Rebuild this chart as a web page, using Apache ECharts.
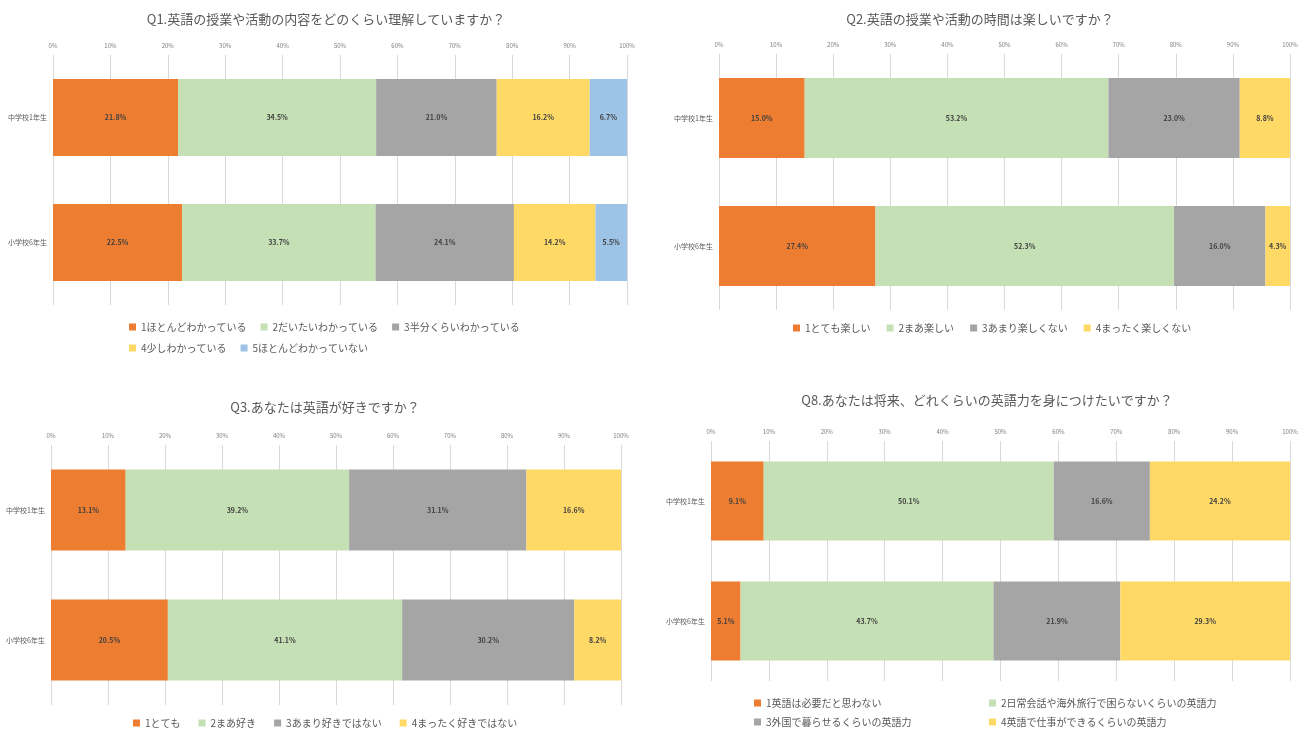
<!DOCTYPE html>
<html><head><meta charset="utf-8">
<script src="https://cdn.jsdelivr.net/npm/echarts@6/dist/echarts.min.js"></script>
<style>html,body{margin:0;padding:0;background:#fff}#c{width:1308px;height:733px}</style>
</head><body><div id="c"></div>
<script>
const categories = ['中学校1年生', '小学校6年生'];
const xTicks = [0,10,20,30,40,50,60,70,80,90,100];

const q1Title = 'Q1.英語の授業や活動の内容をどのくらい理解していますか？';
const q1Names = ['1ほとんどわかっている','2だいたいわかっている','3半分くらいわかっている','4少しわかっている','5ほとんどわかっていない'];
const q1Jh = [21.8, 34.5, 21.0, 16.2, 6.7];
const q1Es = [22.5, 33.7, 24.1, 14.2, 5.5];

const q2Title = 'Q2.英語の授業や活動の時間は楽しいですか？';
const q2Names = ['1とても楽しい','2まあ楽しい','3あまり楽しくない','4まったく楽しくない'];
const q2Jh = [15.0, 53.2, 23.0, 8.8];
const q2Es = [27.4, 52.3, 16.0, 4.3];

const q3Title = 'Q3.あなたは英語が好きですか？';
const q3Names = ['1とても','2まあ好き','3あまり好きではない','4まったく好きではない'];
const q3Jh = [13.1, 39.2, 31.1, 16.6];
const q3Es = [20.5, 41.1, 30.2, 8.2];

const q8Title = 'Q8.あなたは将来、どれくらいの英語力を身につけたいですか？';
const q8Names = ['1英語は必要だと思わない','2日常会話や海外旅行で困らないくらいの英語力','3外国で暮らせるくらいの英語力','4英語で仕事ができるくらいの英語力'];
const q8Jh = [9.1, 50.1, 16.6, 24.2];
const q8Es = [5.1, 43.7, 21.9, 29.3];

const colors = ['#ED7D31', '#C5E0B4', '#A5A5A5', '#FFD966', '#9DC3E6'];
const FONT = '"Noto Sans CJK JP", "Noto Sans", sans-serif';
const TXT = '#595959';

const panels = [
  {title: q1Title, names: q1Names, jh: q1Jh, es: q1Es, grid: {left: 53, width: 574, top: 55, height: 250}, bw: 77, tx: 321, ty: 8},
  {title: q2Title, names: q2Names, jh: q2Jh, es: q2Es, grid: {left: 719, width: 571, top: 54, height: 256}, bw: 80, tx: 975, ty: 8},
  {title: q3Title, names: q3Names, jh: q3Jh, es: q3Es, grid: {left: 51, width: 570, top: 445, height: 260}, bw: 81, tx: 320, ty: 396},
  {title: q8Title, names: q8Names, jh: q8Jh, es: q8Es, grid: {left: 711, width: 579, top: 441, height: 240}, bw: 79, tx: 982, ty: 389}
];

const option = {
  backgroundColor: '#fff',
  textStyle: {fontFamily: FONT},
  animation: false,
  title: [], grid: [], xAxis: [], yAxis: [], series: [], legend: []
};

panels.forEach((p, gi) => {
  option.title.push({text: p.title, left: p.tx, top: p.ty, textAlign: 'center',
    textStyle: {fontFamily: FONT, fontSize: 13, fontWeight: 'normal', color: TXT}});
  option.grid.push(Object.assign({containLabel: false}, p.grid));
  option.xAxis.push({type: 'value', gridIndex: gi, position: 'top', min: 0, max: 100, interval: 10,
    axisLine: {show: false}, axisTick: {show: false},
    axisLabel: {fontSize: 6, color: '#7f7f7f', margin: 6, formatter: v => v + '%'},
    splitLine: {show: true, lineStyle: {color: '#D9D9D9', width: 1}}});
  option.yAxis.push({type: 'category', gridIndex: gi, data: categories, inverse: true,
    axisLine: {show: false}, axisTick: {show: false},
    axisLabel: {fontSize: 7, color: TXT, margin: 6}});
  p.names.forEach((n, i) => {
    option.series.push({
      type: 'bar', name: n, stack: 's' + gi, xAxisIndex: gi, yAxisIndex: gi,
      barWidth: p.bw, itemStyle: {color: colors[i]},
      label: {show: true, position: 'inside', fontSize: 7, fontWeight: 'bold', color: '#404040',
        formatter: d => d.value.toFixed(1) + '%'},
      data: [p.jh[i], p.es[i]]
    });
  });
});

const legendBase = {icon: 'rect', itemWidth: 7, itemHeight: 7, itemGap: 14,
  textStyle: {fontFamily: FONT, fontSize: 10, color: TXT}, selectedMode: false};
option.legend.push(Object.assign({}, legendBase, {data: q1Names.slice(0,3), left: 124, top: 317}));
option.legend.push(Object.assign({}, legendBase, {data: q1Names.slice(3), left: 124, top: 338}));
option.legend.push(Object.assign({}, legendBase, {data: q2Names, left: 788, top: 318, itemGap: 16}));
option.legend.push(Object.assign({}, legendBase, {data: q3Names, left: 128, top: 713, itemGap: 18}));
option.legend.push(Object.assign({}, legendBase, {data: [q8Names[0]], left: 749, top: 693}));
option.legend.push(Object.assign({}, legendBase, {data: [q8Names[2]], left: 749, top: 712}));
option.legend.push(Object.assign({}, legendBase, {data: [q8Names[1]], left: 984, top: 693}));
option.legend.push(Object.assign({}, legendBase, {data: [q8Names[3]], left: 984, top: 712}));

const chart = echarts.init(document.getElementById('c'));
chart.setOption(option);
</script>
</body></html>
